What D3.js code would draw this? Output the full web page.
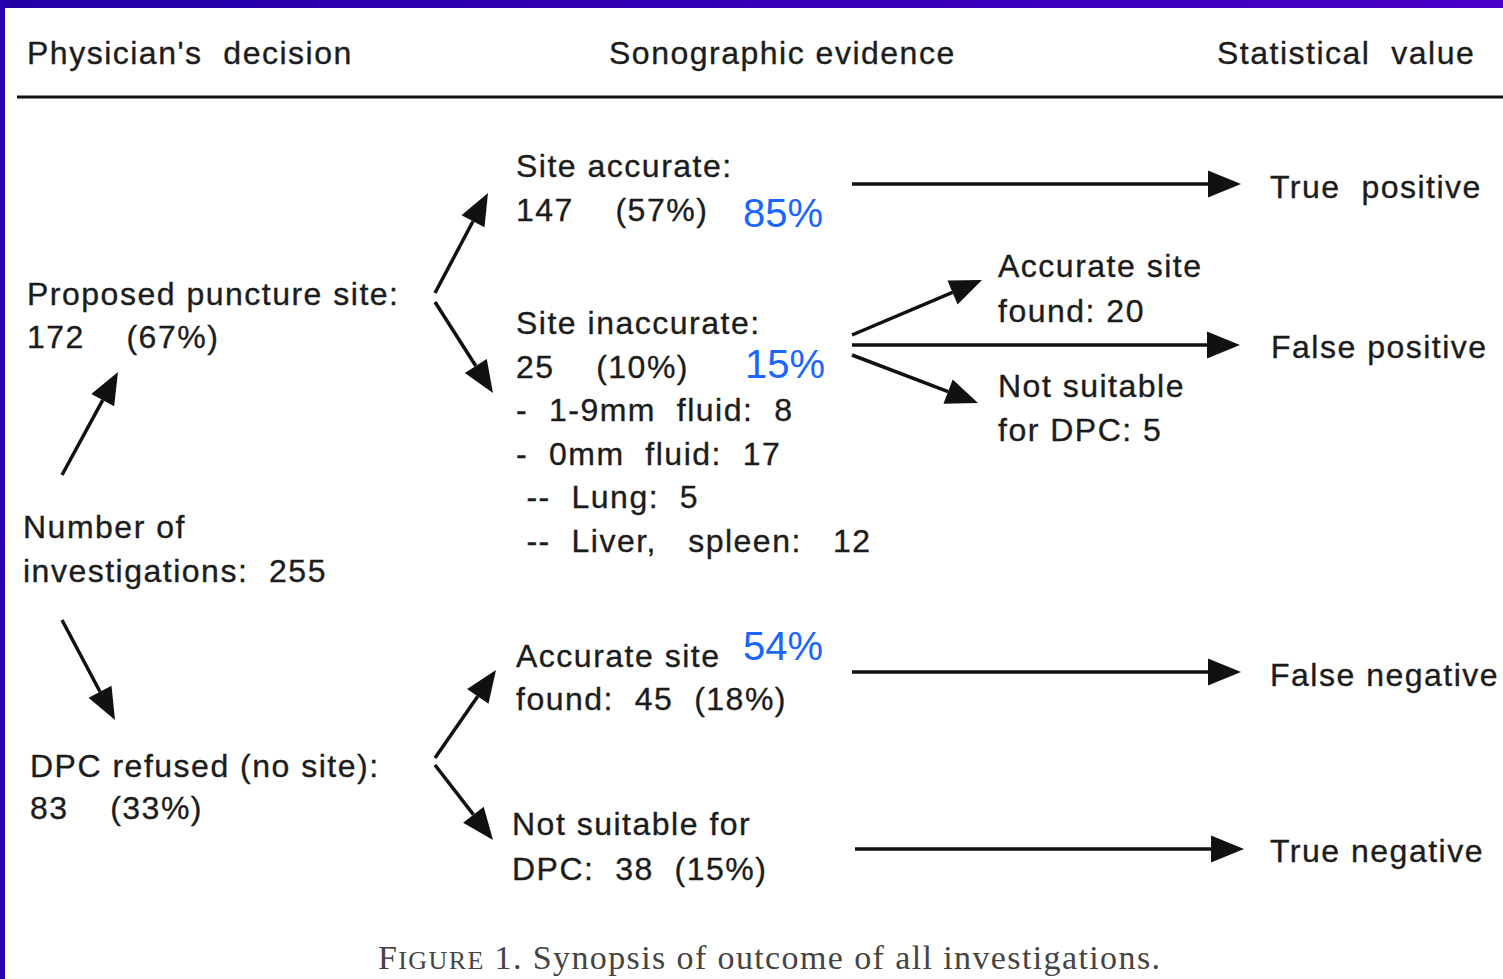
<!DOCTYPE html>
<html>
<head>
<meta charset="utf-8">
<script src="https://cdn.jsdelivr.net/npm/d3@7"></script>
<style>
  html, body { margin: 0; padding: 0; background: #fff; }
  svg text { white-space: pre; }
</style>
</head>
<body>
<svg id="chart"></svg>
<script>
// Flow synopsis: physician's decision -> sonographic evidence -> statistical value
const width = 1503;
const height = 979;

const columnTitles = ["Physician's  decision", "Sonographic evidence", "Statistical  value"];

// text of each box in the diagram
const decisionNodes = [
    { id: "proposed", lines: ["Proposed puncture site:", "172    (67%)"] },
    { id: "total", lines: ["Number of", "investigations:  255"] },
    { id: "refused", lines: ["DPC refused (no site):", "83    (33%)"] }
];
const evidenceNodes = [
    { id: "accurate", lines: ["Site accurate:", "147    (57%)"] },
    { id: "inaccurate", lines: ["Site inaccurate:", "25    (10%)", "-  1-9mm  fluid:  8", "-  0mm  fluid:  17", " --  Lung:  5", " --  Liver,   spleen:   12"] },
    { id: "found45", lines: ["Accurate site", "found:  45  (18%)"] },
    { id: "unsuit38", lines: ["Not suitable for", "DPC:  38  (15%)"] }
];
const detailNodes = [
    { id: "found20", lines: ["Accurate site", "found: 20"] },
    { id: "unsuit5", lines: ["Not suitable", "for DPC: 5"] }
];
const outcomes = ["True  positive", "False positive", "False negative", "True negative"];
const highlights = ["85%", "15%", "54%"];
const caption = "Synopsis of outcome of all investigations.";

// which box points to which
const links = [
    ["total", "proposed"], ["total", "refused"],
    ["proposed", "accurate"], ["proposed", "inaccurate"],
    ["refused", "found45"], ["refused", "unsuit38"],
    ["accurate", "True  positive"], ["inaccurate", "False positive"],
    ["inaccurate", "found20"], ["inaccurate", "unsuit5"],
    ["found45", "False negative"], ["unsuit38", "True negative"]
];

// ---- layout (pixel anchors, kept apart from the data) ----
const textPos = {
    proposed: [27, 305, 43], total: [23, 538, 44], refused: [30, 777, 42],
    accurate: [516, 177, 44], inaccurate: [516, 334, 43.6], found45: [516, 667, 43], unsuit38: [512, 835, 45],
    found20: [998, 277, 45], unsuit5: [998, 397, 44],
    "True  positive": [1270, 198], "False positive": [1271, 358],
    "False negative": [1270, 686], "True negative": [1270, 862]
};
const highlightPos = [[743, 227], [745, 378], [743, 660]];
const titleX = [27, 609, 1217];
const arrowPos = {
    "total>proposed": [[62, 475], [118, 372]],
    "total>refused": [[62, 620], [115, 720]],
    "proposed>accurate": [[435, 293], [488, 193]],
    "proposed>inaccurate": [[435, 302], [493, 393]],
    "refused>found45": [[435, 758], [496, 670]],
    "refused>unsuit38": [[435, 765], [493, 840]],
    "accurate>True  positive": [[852, 184], [1241, 184]],
    "inaccurate>False positive": [[852, 345], [1240, 345]],
    "inaccurate>found20": [[852, 335], [982, 280]],
    "inaccurate>unsuit5": [[852, 355], [978, 403]],
    "found45>False negative": [[852, 672], [1241, 672]],
    "unsuit38>True negative": [[855, 849], [1244, 849]]
};

const svg = d3.select("#chart")
    .attr("width", width)
    .attr("height", height)
    .style("display", "block");

const defs = svg.append("defs");
const grad = defs.append("linearGradient").attr("id", "band").attr("x1", "0%").attr("x2", "100%");
grad.append("stop").attr("offset", "0%").attr("stop-color", "#2200a6");
grad.append("stop").attr("offset", "100%").attr("stop-color", "#4800c6");

svg.append("rect").attr("width", width).attr("height", height).attr("fill", "#fff");
svg.append("rect").attr("width", width).attr("height", 8).attr("fill", "url(#band)");
svg.append("rect").attr("width", 5).attr("height", height).attr("fill", "#2800b0");

const sans = "'Liberation Sans', Arial, Helvetica, sans-serif";
const ink = "#1c1c1c";

function bodyText(sel) {
    return sel
        .attr("font-family", sans)
        .attr("font-size", 32)
        .attr("letter-spacing", 1.5)
        .attr("fill", ink)
        .attr("stroke", ink)
        .attr("stroke-width", 0.35);
}

// column titles + rule
svg.selectAll(".col-title")
    .data(columnTitles)
    .enter()
    .append("text")
    .attr("class", "col-title")
    .attr("x", (d, i) => titleX[i])
    .attr("y", 64)
    .call(bodyText)
    .text(d => d);

svg.append("line")
    .attr("x1", 17).attr("x2", width)
    .attr("y1", 97).attr("y2", 97)
    .attr("stroke", "#111")
    .attr("stroke-width", 3);

// boxes of text
const nodes = decisionNodes.concat(evidenceNodes, detailNodes);
const nodeG = svg.selectAll(".node")
    .data(nodes)
    .enter()
    .append("text")
    .attr("class", "node")
    .call(bodyText);

nodeG.selectAll("tspan")
    .data(d => d.lines.map((t, i) => ({ t, i, id: d.id })))
    .enter()
    .append("tspan")
    .attr("x", d => textPos[d.id][0])
    .attr("y", d => textPos[d.id][1] + d.i * textPos[d.id][2])
    .text(d => d.t);

svg.selectAll(".outcome")
    .data(outcomes)
    .enter()
    .append("text")
    .attr("class", "outcome")
    .attr("x", d => textPos[d][0])
    .attr("y", d => textPos[d][1])
    .call(bodyText)
    .text(d => d);

svg.selectAll(".hl")
    .data(highlights)
    .enter()
    .append("text")
    .attr("class", "hl")
    .attr("x", (d, i) => highlightPos[i][0])
    .attr("y", (d, i) => highlightPos[i][1])
    .attr("font-family", sans)
    .attr("font-size", 40)
    .attr("fill", "#1a66ff")
    .text(d => d);

// arrows: shaft + filled triangular head
function arrowHead(p0, p1, len, half) {
    const dx = p1[0] - p0[0], dy = p1[1] - p0[1];
    const L = Math.hypot(dx, dy);
    const ux = dx / L, uy = dy / L;
    const bx = p1[0] - ux * len, by = p1[1] - uy * len;
    return [[p1[0], p1[1]], [bx - uy * half, by + ux * half], [bx + uy * half, by - ux * half]];
}

const arrows = links.map(l => {
    const pts = arrowPos[l[0] + ">" + l[1]];
    const horiz = pts[0][1] === pts[1][1];
    return { p0: pts[0], p1: pts[1], len: horiz ? 33 : 32, half: horiz ? 13.5 : 13 };
});

const line = d3.line();
const ag = svg.selectAll(".arrow")
    .data(arrows)
    .enter()
    .append("g")
    .attr("class", "arrow");

ag.append("path")
    .attr("d", d => {
        const head = arrowHead(d.p0, d.p1, d.len, d.half);
        const base = [(head[1][0] + head[2][0]) / 2, (head[1][1] + head[2][1]) / 2];
        return line([d.p0, base]);
    })
    .attr("stroke", "#111")
    .attr("stroke-width", 3.5)
    .attr("fill", "none");

ag.append("path")
    .attr("d", d => line(arrowHead(d.p0, d.p1, d.len, d.half)) + "Z")
    .attr("fill", "#111");

// caption in small caps serif
const cap = svg.append("text")
    .attr("x", 378)
    .attr("y", 969)
    .attr("font-family", "'Liberation Serif', 'Times New Roman', serif")
    .attr("font-size", 34)
    .attr("fill", "#444")
    .attr("textLength", 782)
    .attr("lengthAdjust", "spacing");
cap.append("tspan").text("F");
cap.append("tspan").attr("font-size", 26).text("IGURE");
cap.append("tspan").text(" 1. " + caption);
</script>
</body>
</html>
